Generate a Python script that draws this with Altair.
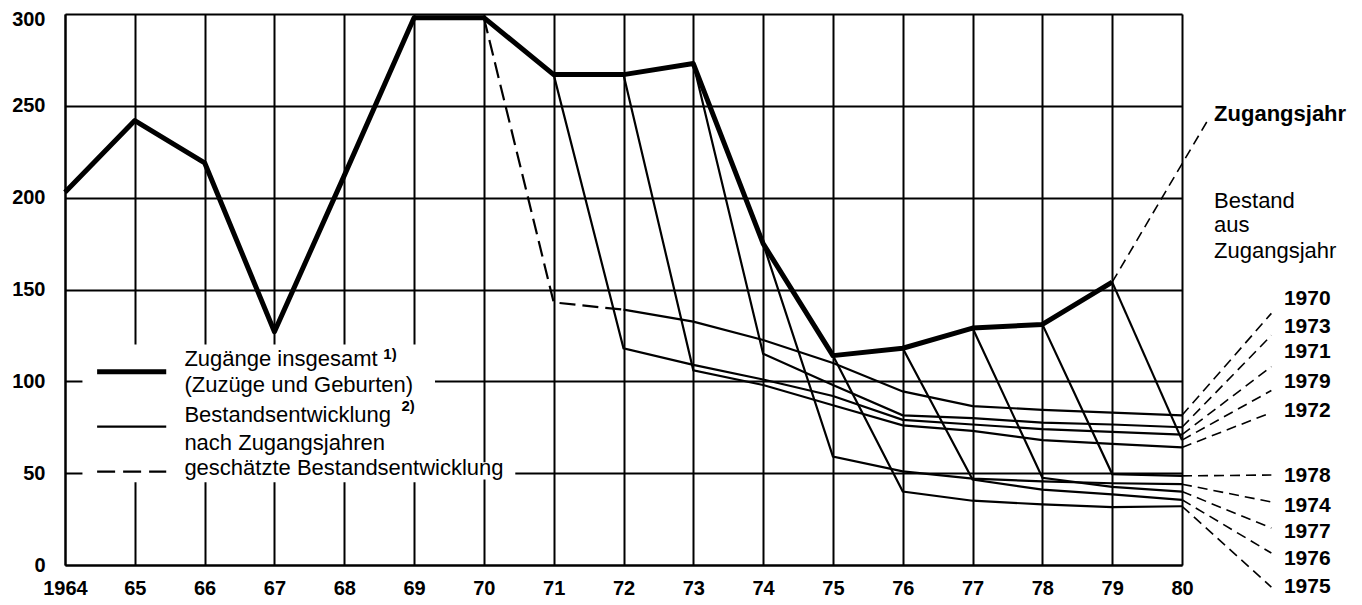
import altair as alt
import pandas as pd

FONT = "Liberation Sans"

# ---------------- data ----------------
years = list(range(1964, 1981))
y_ticks = [0, 50, 100, 150, 200, 250, 300]

# Zugänge insgesamt (thick line)
total_years = list(range(1964, 1980))
total_values = [203, 242, 219, 127, 212, 298, 298, 267, 267, 273, 175, 114, 118, 129, 131, 154]

# Bestandsentwicklung nach Zugangsjahren (solid thin lines)
c1970_years = [1972, 1973, 1974, 1975, 1976, 1977, 1978, 1979, 1980]
c1970_values = [139, 132.5, 122.5, 110, 94.5, 86.5, 84.5, 83, 81.5]
c1971_years = [1971, 1972, 1973, 1974, 1975, 1976, 1977, 1978, 1979, 1980]
c1971_values = [267, 118, 109, 101, 92, 79, 76.5, 74, 72.5, 71]
c1972_years = [1972, 1973, 1974, 1975, 1976, 1977, 1978, 1979, 1980]
c1972_values = [267, 106, 98, 87, 76, 73, 68, 66, 64]
c1973_years = [1973, 1974, 1975, 1976, 1977, 1978, 1979, 1980]
c1973_values = [273, 115, 98, 81.5, 80, 77.5, 76.5, 75]
c1974_years = [1974, 1975, 1976, 1977, 1978, 1979, 1980]
c1974_values = [175, 59, 51, 47, 45.5, 44.5, 44]
c1975_years = [1975, 1976, 1977, 1978, 1979, 1980]
c1975_values = [114, 40, 35, 33, 31.5, 32]
c1976_years = [1976, 1977, 1978, 1979, 1980]
c1976_values = [118, 46.5, 41, 38.5, 35.5]
c1977_years = [1977, 1978, 1979, 1980]
c1977_values = [129, 47.5, 42.5, 40]
c1978_years = [1978, 1979, 1980]
c1978_values = [131, 49.5, 48.5]
c1979_years = [1979, 1980]
c1979_values = [154, 68]

# geschätzte Bestandsentwicklung (dashed)
est1970_years = [1970, 1971, 1972]
est1970_values = [298, 143, 139]

# right-hand labels of the cohorts at 1980
right_labels = ["1970", "1973", "1971", "1979", "1972", "1978", "1974", "1977", "1976", "1975"]
right_label_y = [141.5, 126.3, 112.7, 96.4, 80.6, 45.2, 28.9, 14.7, 0.2, -15.2]
leader_end_y = [137, 125, 108, 95, 83, 49, 34.3, 20.1, 6.5, -12.0]
leader_end_x = 1981.28
right_label_x = 1981.46

# annotation texts
top_label = "Zugangsjahr"
top_label_pos = (1980.46, 242.0)
top_leader_end = (1980.39, 243.5)
bestand_lines = ["Bestand", "aus", "Zugangsjahr"]
bestand_y = [194.3, 181.3, 167.1]

legend_texts = ["Zugänge insgesamt", "(Zuzüge und Geburten)", "Bestandsentwicklung",
                "nach Zugangsjahren", "geschätzte Bestandsentwicklung"]
legend_text_y = [108.5, 94.3, 78, 62.6, 49]
legend_text_x = 1965.71
legend_sup = ["1)", "2)"]
legend_sup_x = [1968.56, 1968.82]
legend_sup_y = [112.3, 83.6]
legend_line_x = [1964.46, 1965.45]
legend_line_y = [105.2, 75.3, 50.8]

# ---------------- tables ----------------
cohorts = {
    "1970": (c1970_years, c1970_values), "1971": (c1971_years, c1971_values),
    "1972": (c1972_years, c1972_values), "1973": (c1973_years, c1973_values),
    "1974": (c1974_years, c1974_values), "1975": (c1975_years, c1975_values),
    "1976": (c1976_years, c1976_values), "1977": (c1977_years, c1977_values),
    "1978": (c1978_years, c1978_values), "1979": (c1979_years, c1979_values),
}
total_df = pd.DataFrame({"x": total_years, "y": total_values})
coh_df = pd.DataFrame([{"x": xx, "y": yy, "s": k}
                       for k, (xs_, ys_) in cohorts.items() for xx, yy in zip(xs_, ys_)])
est_df = pd.DataFrame({"x": est1970_years, "y": est1970_values})

lead_rows = []
for lab, ly in zip(right_labels, leader_end_y):
    lead_rows.append({"x": 1980, "y": cohorts[lab][1][-1], "s": lab})
    lead_rows.append({"x": leader_end_x, "y": ly, "s": lab})
lead_rows.append({"x": total_years[-1], "y": total_values[-1], "s": "top"})
lead_rows.append({"x": top_leader_end[0], "y": top_leader_end[1], "s": "top"})
lead_df = pd.DataFrame(lead_rows)

right_df = pd.DataFrame({"x": [right_label_x] * len(right_labels), "y": right_label_y, "t": right_labels})
bestand_df = pd.DataFrame({"x": [top_label_pos[0]] * 3, "y": bestand_y, "t": bestand_lines})
top_df = pd.DataFrame({"x": [top_label_pos[0]], "y": [top_label_pos[1]], "t": [top_label]})

leg_rect_df = pd.DataFrame({"x0": [1964.25, 1969.3], "x1": [1969.3, 1970.45],
                            "y0": [45, 46.5], "y1": [120, 56]})
leg_line_df = pd.DataFrame([{"x": xx, "y": yy, "s": i}
                            for i, yy in enumerate(legend_line_y) for xx in legend_line_x])
leg_text_df = pd.DataFrame({"x": [legend_text_x] * len(legend_texts), "y": legend_text_y, "t": legend_texts})
leg_sup_df = pd.DataFrame({"x": legend_sup_x, "y": legend_sup_y, "t": legend_sup})

# ---------------- encodings ----------------
xs = alt.Scale(domain=[1964, 1980], nice=False, zero=False)
ys = alt.Scale(domain=[0, 300], nice=False, zero=False)
x_axis = alt.Axis(values=years, labelExpr="datum.value == 1964 ? '1964' : format(datum.value % 100, '02d')",
                  grid=True, gridColor="black", gridWidth=2, gridOpacity=1,
                  domainColor="black", domainWidth=2, ticks=False, labelPadding=13,
                  labelFont=FONT, labelFontSize=20, labelFontWeight="bold", labelColor="black",
                  title=None, labelFlush=False, labelOverlap=False)
y_axis = alt.Axis(values=y_ticks, grid=True, gridColor="black", gridWidth=2, gridOpacity=1,
                  domainColor="black", domainWidth=2, ticks=False, labelPadding=20,
                  labelFont=FONT, labelFontSize=20, labelFontWeight="bold", labelColor="black",
                  labelOffset={"condition": {"test": "datum.value == 300", "value": 5}, "value": 0},
                  title=None, labelFlush=False, labelOverlap=False)
X = alt.X("x:Q", scale=xs, axis=x_axis)
Y = alt.Y("y:Q", scale=ys, axis=y_axis)

thick = alt.Chart(total_df).mark_line(color="black", strokeWidth=5, strokeJoin="round").encode(x=X, y=Y)
thin = alt.Chart(coh_df).mark_line(color="black", strokeWidth=2.2).encode(x=X, y=Y, detail="s:N")
est = alt.Chart(est_df).mark_line(color="black", strokeWidth=2.2, strokeDash=[16, 7]).encode(x=X, y=Y)
leaders = alt.Chart(lead_df).mark_line(color="black", strokeWidth=1.6, strokeDash=[10, 6]).encode(
    x=X, y=Y, detail="s:N")

rects = alt.Chart(leg_rect_df).mark_rect(color="white").encode(
    x=alt.X("x0:Q", scale=xs, axis=x_axis), x2="x1:Q",
    y=alt.Y("y0:Q", scale=ys, axis=y_axis), y2="y1:Q")

leg_thick = alt.Chart(leg_line_df[leg_line_df.s == 0]).mark_line(color="black", strokeWidth=5).encode(x=X, y=Y)
leg_thin = alt.Chart(leg_line_df[leg_line_df.s == 1]).mark_line(color="black", strokeWidth=2.2).encode(x=X, y=Y)
leg_dash = alt.Chart(leg_line_df[leg_line_df.s == 2]).mark_line(
    color="black", strokeWidth=2.2, strokeDash=[18, 8]).encode(x=X, y=Y)

def text_layer(df, size, weight):
    return alt.Chart(df).mark_text(align="left", baseline="alphabetic", font=FONT,
                                   fontSize=size, fontWeight=weight, color="black").encode(
        x=X, y=Y, text="t:N")

leg_text = text_layer(leg_text_df, 22, "normal")
leg_sup = text_layer(leg_sup_df, 15, "bold")
right_text = text_layer(right_df, 21, "bold")
bestand_text = text_layer(bestand_df, 22, "normal")
top_text = text_layer(top_df, 22, "bold")

chart = alt.layer(
    rects, thin, est, thick, leaders,
    leg_thick, leg_thin, leg_dash, leg_text, leg_sup,
    right_text, bestand_text, top_text,
).properties(
    width=1117, height=551,
    autosize=alt.AutoSizeParams(type="none"),
    padding={"left": 57, "top": 6, "right": 172, "bottom": 32},
).configure_view(stroke=None).configure(background="white")

chart.save("out.html", embed_options={"renderer": "svg", "actions": False})
